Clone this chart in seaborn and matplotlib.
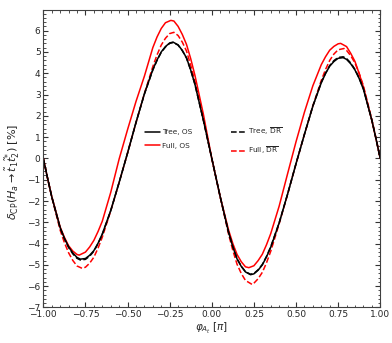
import matplotlib
matplotlib.use("Agg")
import matplotlib.pyplot as plt
import seaborn as sns
import pandas as pd
from matplotlib.ticker import MultipleLocator

# ---- data ----
phi_tree = [-1.00, -0.975, -0.95, -0.90, -0.875, -0.85, -0.825, -0.80, -0.78, -0.75, -0.725, -0.70,
            -0.675, -0.65, -0.60, -0.55, -0.50, -0.45, -0.40, -0.35, -0.325, -0.30, -0.275, -0.25,
            -0.23, -0.20, -0.175, -0.15, -0.125, -0.10, -0.05, 0.00, 0.05, 0.10, 0.125, 0.15,
            0.175, 0.20, 0.23, 0.25, 0.275, 0.30, 0.325, 0.35, 0.40, 0.45, 0.50, 0.55, 0.60,
            0.65, 0.675, 0.70, 0.725, 0.75, 0.78, 0.80, 0.825, 0.85, 0.875, 0.90, 0.95, 0.975, 1.00]
tree_os = [0.00, -0.92, -1.80, -3.25, -3.75, -4.15, -4.44, -4.65, -4.73, -4.70, -4.55, -4.33,
           -3.98, -3.55, -2.45, -1.13, 0.25, 1.68, 3.03, 4.17, 4.62, 5.00, 5.25, 5.42,
           5.46, 5.33, 5.07, 4.72, 4.15, 3.48, 1.80, 0.00, -1.80, -3.48, -4.15, -4.72,
           -5.07, -5.33, -5.46, -5.42, -5.25, -5.00, -4.62, -4.17, -3.03, -1.68, -0.25, 1.13, 2.45,
           3.55, 3.98, 4.33, 4.55, 4.70, 4.73, 4.65, 4.44, 4.15, 3.75, 3.25, 1.80, 0.92, 0.00]
tree_dr = [0.00, -0.92, -1.80, -3.27, -3.77, -4.18, -4.48, -4.69, -4.77, -4.74, -4.59, -4.36,
           -4.00, -3.57, -2.46, -1.13, 0.25, 1.68, 3.02, 4.15, 4.60, 4.98, 5.23, 5.40,
           5.44, 5.32, 5.06, 4.71, 4.14, 3.48, 1.80, 0.00, -1.80, -3.48, -4.14, -4.71,
           -5.06, -5.32, -5.44, -5.40, -5.23, -4.98, -4.60, -4.15, -3.02, -1.68, -0.25, 1.13, 2.46,
           3.57, 4.00, 4.36, 4.59, 4.74, 4.77, 4.69, 4.48, 4.18, 3.77, 3.27, 1.80, 0.92, 0.00]

phi_full_os = [-1.00, -0.975, -0.95, -0.90, -0.875, -0.85, -0.825, -0.80, -0.787, -0.75, -0.725, -0.70,
               -0.675, -0.65, -0.60, -0.55, -0.50, -0.45, -0.40, -0.35, -0.325, -0.30, -0.275, -0.243,
               -0.225, -0.20, -0.175, -0.15, -0.125, -0.10, -0.05, 0.00, 0.05, 0.10, 0.125, 0.15,
               0.175, 0.20, 0.22, 0.25, 0.275, 0.30, 0.325, 0.35, 0.40, 0.45, 0.50, 0.55, 0.60,
               0.65, 0.675, 0.70, 0.725, 0.75, 0.765, 0.80, 0.825, 0.85, 0.875, 0.90, 0.95, 0.975, 1.00]
full_os = [0.00, -0.92, -1.78, -3.22, -3.70, -4.10, -4.35, -4.51, -4.54, -4.40, -4.16, -3.85,
           -3.43, -2.95, -1.60, -0.03, 1.35, 2.67, 3.86, 5.20, 5.70, 6.10, 6.37, 6.48,
           6.45, 6.20, 5.82, 5.35, 4.68, 3.90, 2.08, 0.00, -1.80, -3.37, -4.00, -4.51,
           -4.85, -5.09, -5.13, -5.04, -4.80, -4.50, -4.05, -3.53, -2.24, -0.72, 0.78, 2.17, 3.41,
           4.40, 4.77, 5.08, 5.26, 5.38, 5.40, 5.25, 4.93, 4.55, 3.98, 3.35, 1.78, 0.91, 0.00]

phi_full_dr = [-1.00, -0.975, -0.95, -0.90, -0.875, -0.85, -0.825, -0.80, -0.77, -0.75, -0.725, -0.70,
               -0.675, -0.65, -0.60, -0.55, -0.50, -0.45, -0.40, -0.35, -0.325, -0.30, -0.275, -0.25,
               -0.225, -0.20, -0.175, -0.15, -0.125, -0.10, -0.05, 0.00, 0.05, 0.10, 0.125, 0.15,
               0.175, 0.20, 0.24, 0.25, 0.275, 0.30, 0.325, 0.35, 0.40, 0.45, 0.50, 0.55, 0.60,
               0.65, 0.675, 0.70, 0.725, 0.75, 0.785, 0.80, 0.825, 0.85, 0.875, 0.90, 0.95, 0.975, 1.00]
full_dr = [0.00, -0.93, -1.81, -3.37, -3.95, -4.43, -4.79, -5.05, -5.16, -5.11, -4.92, -4.64,
           -4.21, -3.70, -2.47, -1.13, 0.25, 1.68, 3.05, 4.31, 4.86, 5.32, 5.64, 5.86,
           5.92, 5.77, 5.46, 5.04, 4.37, 3.62, 1.82, 0.00, -1.81, -3.57, -4.32, -4.97,
           -5.40, -5.73, -5.92, -5.86, -5.65, -5.35, -4.90, -4.36, -3.07, -1.68, -0.25, 1.13, 2.47,
           3.66, 4.17, 4.60, 4.90, 5.10, 5.16, 5.07, 4.82, 4.48, 3.99, 3.41, 1.83, 0.94, 0.00]

labels = ["Tree, OS", "Full, OS", r"Tree, $\overline{\mathrm{DR}}$", r"Full, $\overline{\mathrm{DR}}$"]

sns.set_style("ticks")
plt.rcParams["font.family"] = ["DejaVu Sans"]
plt.rcParams["mathtext.fontset"] = "dejavusans"

fig = plt.figure(figsize=(3.92, 3.43), dpi=100)
ax = fig.add_axes([0.1105, 0.1035, 0.8595, 0.8675])

series = [
    (phi_full_os, full_os, labels[1], "#ff0000", "-"),
    (phi_full_dr, full_dr, labels[3], "#ff0000", "--"),
    (phi_tree, tree_os, labels[0], "black", "-"),
    (phi_tree, tree_dr, labels[2], "black", "--"),
]
for xs, ys, lab, col, ls in series:
    df = pd.DataFrame({"phi": xs, "delta": ys})
    sns.lineplot(data=df, x="phi", y="delta", ax=ax, color=col, linestyle=ls,
                 linewidth=1.1, label=lab, sort=False, estimator=None)

h, l = ax.get_legend_handles_labels()
lookup = dict(zip(l, h))
ax.legend([lookup[k] for k in labels], labels, ncol=2, frameon=False, fontsize=5.3,
          loc="center", bbox_to_anchor=(0.505, 0.56), columnspacing=5.2,
          handlelength=2.0, handletextpad=0.3, labelspacing=1.0)

ax.set_xlim(-1, 1)
ax.set_ylim(-7, 6.97)
ax.xaxis.set_major_locator(MultipleLocator(0.25))
ax.xaxis.set_minor_locator(MultipleLocator(0.05))
ax.yaxis.set_major_locator(MultipleLocator(1))
ax.yaxis.set_minor_locator(MultipleLocator(0.2))
ax.tick_params(which="both", direction="in", top=True, right=True, labelsize=6.5,
               color="0.2", pad=2)
ax.tick_params(which="major", length=3.5, width=0.8)
ax.tick_params(which="minor", length=1.8, width=0.6)
for s in ax.spines.values():
    s.set_color("0.25")
    s.set_linewidth(0.8)

ax.set_xlabel(r"$\varphi_{A_t}$ [$\pi$]", fontsize=7.5, labelpad=1)
ax.set_ylabel(r"$\delta_{\mathrm{CP}}(H_a \to \tilde{t}_1\tilde{t}_2^{*})$ [%]", fontsize=8.0)
ax.yaxis.set_label_coords(-0.063, 0.457)

fig.savefig("out.png", dpi=100)
